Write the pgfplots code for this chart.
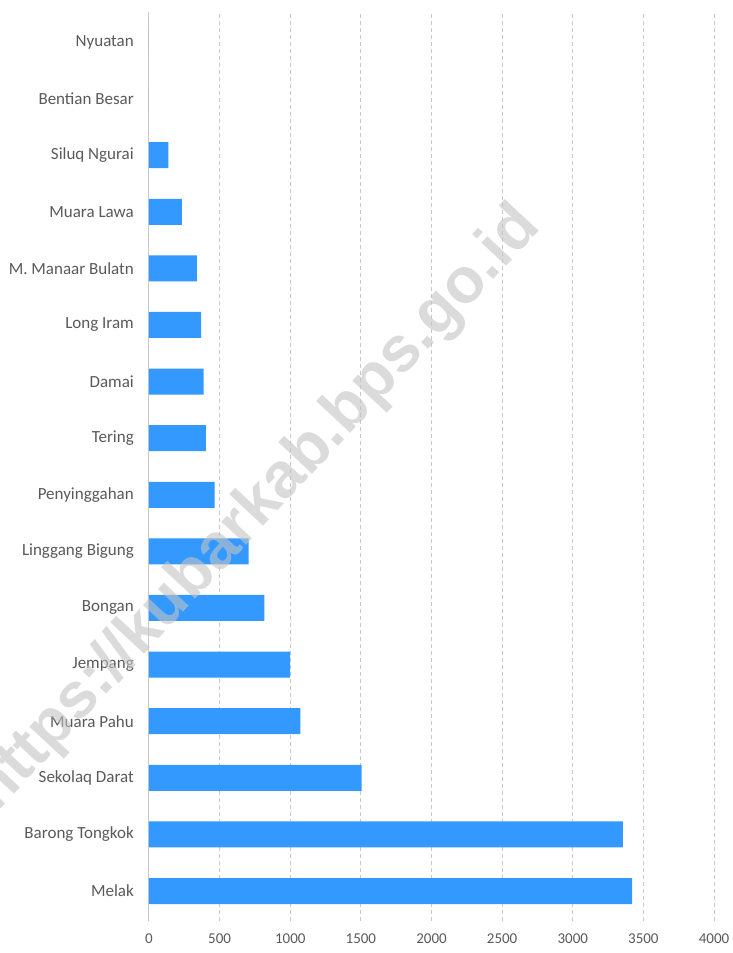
\documentclass[border=0pt]{standalone}
\usepackage{pgfplots}
\pgfplotsset{compat=1.18}
\usepackage{fontspec}
\setmainfont{Carlito}
\newfontfamily\wmfont{Liberation Sans}
\definecolor{barblue}{RGB}{51,153,255}
\definecolor{lab}{RGB}{89,89,89}
\definecolor{gridc}{RGB}{200,200,200}
\definecolor{wmc}{RGB}{195,195,195}
\begin{document}
\begin{tikzpicture}
\begin{axis}[
  name=ax,
  at={(0,0)}, anchor=south west,
  scale only axis,
  width=565bp, height=909bp,
  xmin=0, xmax=4000,
  ymin=-0.53, ymax=15.53,
  xtick={0,500,...,4000},
  ytick={0,...,15},
  yticklabels={Melak,Barong Tongkok,Sekolaq Darat,Muara Pahu,Jempang,Bongan,Linggang Bigung,Penyinggahan,Tering,Damai,Long Iram,M. Manaar Bulatn,Muara Lawa,Siluq Ngurai,Bentian Besar,Nyuatan},
  xbar, bar width=26bp,
  axis line style={draw=none},
  major tick length=0pt,
  xmajorgrids,
  major grid style={gridc, line width=1bp, dash pattern=on 4bp off 3bp},
  extra x ticks={0}, extra x tick labels={},
  extra x tick style={grid=major, major grid style={solid, gridc, line width=1bp}},
  tick label style={text=lab},
  yticklabel style={font=\fontsize{17bp}{20bp}\selectfont, inner sep=0pt, xshift=-15bp},
  xticklabel style={font=\fontsize{15bp}{18bp}\selectfont, inner sep=0pt, yshift=-13bp},
  /pgf/number format/assume math mode=true,
  /pgf/number format/1000 sep={},
  clip=false,
]
\addplot[fill=barblue, draw=none] coordinates {
(3420,0) (3355,1) (1505,2) (1072,3) (1000,4) (817,5) (705,6) (464,7)
(403,8) (386,9) (369,10) (339,11) (232,12) (137,13) (0,14) (0,15)
};
\node[rotate=47, text=wmc, opacity=0.6, font={\wmfont\bfseries\fontsize{64bp}{66bp}\selectfont}] at (axis cs:765,6.74) {https://kubarkab.bps.go.id};
\end{axis}
\pgfresetboundingbox
\path (-149bp,-32bp) rectangle (584bp,921bp);
\end{tikzpicture}
\end{document}
